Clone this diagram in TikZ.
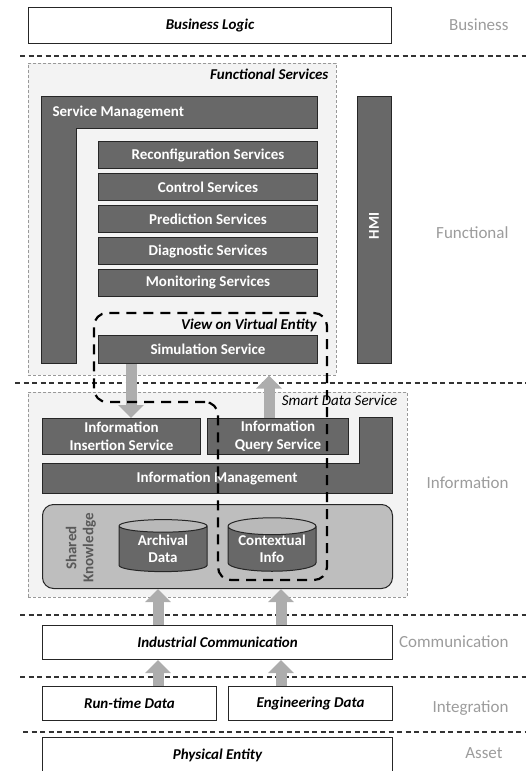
\documentclass[tikz,border=0pt]{standalone}
\usepackage{fontspec}
\setmainfont{Carlito}
\usetikzlibrary{arrows.meta,shapes.geometric}
\definecolor{boxgray}{HTML}{686868}
\definecolor{panelgray}{HTML}{F3F3F3}
\definecolor{sharedgray}{HTML}{BEBEBE}
\definecolor{arrowgray}{HTML}{ADADAD}
\definecolor{laygray}{HTML}{9C9C9C}

\begin{document}
\begin{tikzpicture}[x=1pt, y=-1pt, font=\bfseries\fontsize{15}{17}\selectfont,
	dbox/.style={draw=black!85, line width=1pt, fill=boxgray, text=white, inner sep=0pt, anchor=north west},
	wbox/.style={draw=black!85, line width=1pt, fill=white, inner sep=0pt, anchor=north west, font=\bfseries\itshape\fontsize{15}{17}\selectfont},
	panel/.style={draw=gray!80, densely dashed, line width=0.6pt, fill=panelgray, inner sep=0pt, anchor=north west},
	ptitle/.style={anchor=north east, inner sep=0pt, font=\bfseries\itshape\fontsize{15}{17}\selectfont},
	layer/.style={draw=black!80, line width=1.4pt, dash pattern=on 5pt off 3.5pt},
	lname/.style={anchor=east, text=laygray, font=\fontsize{17}{19}\selectfont},
	fat/.style={draw=arrowgray, line width=11pt, -{Triangle[width=25pt, length=13pt]}},
	vove/.style={draw=black, line width=2.2pt, dash pattern=on 10pt off 7pt, rounded corners=13pt},
	db/.style={cylinder, shape border rotate=90, aspect=0.25, draw=black!85, line width=1pt, cylinder uses custom fill, cylinder body fill=boxgray, cylinder end fill=gray!55, text=white, align=center, minimum width=88, minimum height=52, inner sep=0pt}]
	\useasboundingbox (0,0) rectangle (526,771);
	% layer separators
	\draw[layer] (20,56) -- (526,56);
	\draw[layer] (15,383) -- (526,383);
	\draw[layer] (20,615) -- (526,615);
	\draw[layer] (20,677) -- (526,677);
	\draw[layer] (23,732) -- (526,732);
	\node[lname] (lbiz) at (512,25) {Business};
	\node[lname] (lfunc) at (512,233) {Functional};
	\node[lname] (linfo) at (512,483) {Information};
	\node[lname] (lcomm) at (512,642) {Communication};
	\node[lname] (linteg) at (512,708) {Integration};
	\node[lname] (lasset) at (506,753) {Asset};
	% business
	\node[wbox, minimum width=363, minimum height=36] (bizlogic) at (28,7) {Business Logic};
	% functional services
	\node[panel, minimum width=308, minimum height=312] (funcsrv) at (28,63) {};
	\node[ptitle] (funclbl) at ([xshift=-8pt, yshift=-6pt]funcsrv.north east) {Functional Services};
	\draw[line width=1pt, draw=black!85, fill=boxgray] (41,96) -- (317,96) -- (317,128) -- (76,128) -- (76,363) -- (41,363) -- cycle;
	\node[anchor=west, text=white] (svcmgmt) at (49,113) {Service Management};
	\node[dbox, minimum width=34, minimum height=267] (hmi) at (357,96) {};
	\node[rotate=90, text=white] (hmilbl) at (374,226) {HMI};
	\foreach \nm/\txt [count=\i from 0] in {rec/Reconfiguration Services, ctl/Control Services, pre/Prediction Services, dia/Diagnostic Services, mon/Monitoring Services}
		\node[dbox, minimum width=219, minimum height=27] (\nm) at (98,141+32*\i) {\txt};
	\node[dbox, minimum width=219, minimum height=28] (sim) at (98,335) {Simulation Service};
	% smart data service
	\node[panel, minimum width=379, minimum height=205] (smartdata) at (28,392) {};
	\node[ptitle, font=\itshape\fontsize{15}{17}\selectfont] (smartlbl) at ([xshift=-10pt, yshift=-3pt]smartdata.north east) {Smart Data Service};
	\node[dbox, minimum width=158, minimum height=36, align=center, font=\bfseries\fontsize{15}{17.5}\selectfont] (insert) at (42,418) {Information\\Insertion Service};
	\node[dbox, minimum width=141, minimum height=36, align=center, font=\bfseries\fontsize{15}{17.5}\selectfont] (query) at (207,418) {Information\\Query Service};
	\draw[line width=1pt, draw=black!85, fill=boxgray] (42,463) -- (359,463) -- (359,417) -- (392,417) -- (392,493) -- (42,493) -- cycle;
	\node[text=white] (infomgmt) at (217,478) {Information Management};
	\node[draw=black!85, line width=1pt, fill=sharedgray, rounded corners=11pt, anchor=north west, minimum width=350, minimum height=84, inner sep=0pt] (shared) at (42,504) {};
	\node[rotate=90, text=black!65, align=center] (sharedlbl) at (81,548) {Shared\\Knowledge};
	\node[db] (archive) at (163,549) {Archival\\Data};
	\node[db] (context) at (272,549) {Contextual\\Info};
	% communication, integration, asset
	\node[wbox, minimum width=350, minimum height=34] (indcomm) at (42,625) {Industrial Communication};
	\node[wbox, minimum width=174, minimum height=34] (runtime) at (42,686) {Run-time Data};
	\node[wbox, minimum width=164, minimum height=34] (engdata) at (228,686) {Engineering Data};
	\node[wbox, minimum width=350, minimum height=36] (physical) at (42,737) {Physical Entity};
	% data flow
	\coordinate (xa) at (131,0);
	\coordinate (xb) at (269,0);
	\coordinate (xc) at (158,0);
	\coordinate (xd) at (281,0);
	\draw[fat] (sim.south -| xa) -- (insert.north -| xa);
	\draw[fat] (query.north -| xb) -- (funcsrv.south -| xb);
	\draw[fat] (indcomm.north -| xc) -- (shared.south -| xc);
	\draw[fat] (indcomm.north -| xd) -- (shared.south -| xd);
	\draw[fat] (runtime.north -| xc) -- (indcomm.south -| xc);
	\draw[fat] (engdata.north -| xd) -- (indcomm.south -| xd);
	% view on virtual entity
	\draw[vove] (218,402) -- (94,402) -- (94,313) -- (327,313) -- (327,580) -- (218,580) -- cycle;
	\node[anchor=east, inner sep=0pt, font=\bfseries\itshape\fontsize{15}{17}\selectfont] (vovelbl) at (317,325) {View on Virtual Entity};
\end{tikzpicture}
\end{document}
